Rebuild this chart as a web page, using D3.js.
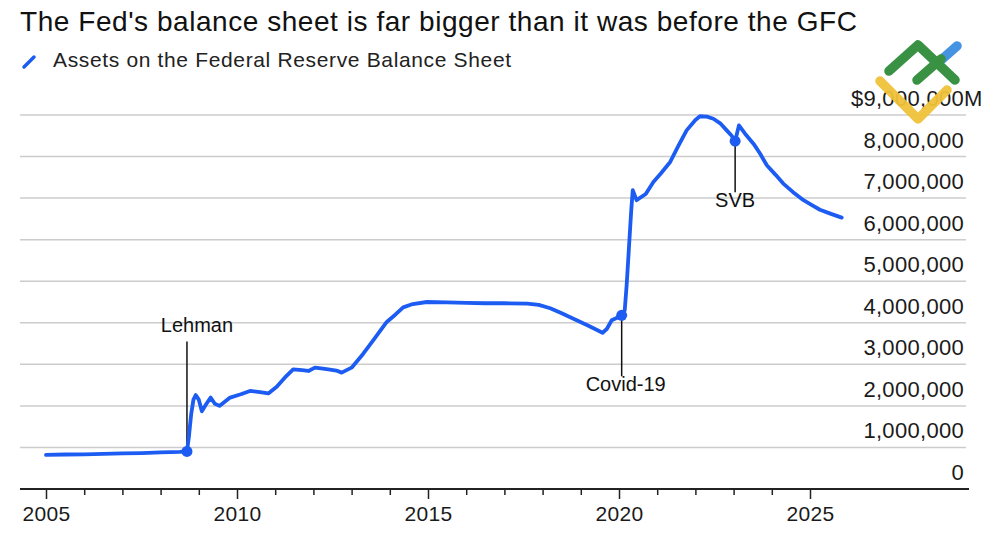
<!DOCTYPE html>
<html>
<head>
<meta charset="utf-8">
<script src="https://cdn.jsdelivr.net/npm/d3@7"></script>
<style>
  html, body { margin: 0; padding: 0; background: #fff; }
  svg { display: block; font-family: "Liberation Sans", Arial, Helvetica, sans-serif; }
</style>
</head>
<body>
<svg id="chart" width="1000" height="545"></svg>
<script>
// ---- data ----
const years = [2005.0, 2005.5, 2006.0, 2006.5, 2007.0, 2007.5, 2008.0, 2008.5, 2008.69,
  2008.74, 2008.8, 2008.86, 2008.92, 2009.0, 2009.08, 2009.2, 2009.31, 2009.42, 2009.54,
  2009.68, 2009.82, 2010.1, 2010.34, 2010.6, 2010.82, 2011.04, 2011.25, 2011.47, 2011.7,
  2011.87, 2012.04, 2012.2, 2012.39, 2012.6, 2012.74, 2013.0, 2013.3, 2013.57, 2013.92,
  2014.15, 2014.35, 2014.6, 2014.97, 2015.5, 2016.0, 2016.5, 2017.0, 2017.6, 2017.9,
  2018.2, 2018.5, 2018.85, 2019.2, 2019.57, 2019.68, 2019.81, 2019.95, 2020.07, 2020.15, 2020.2,
  2020.26, 2020.32, 2020.36, 2020.46, 2020.7, 2020.9, 2021.1, 2021.34, 2021.55, 2021.77,
  2022.0, 2022.12, 2022.3, 2022.47, 2022.65, 2022.82, 2022.95, 2023.04, 2023.14, 2023.3, 2023.52,
  2023.7, 2023.87, 2024.1, 2024.3, 2024.55, 2024.83, 2025.05, 2025.26, 2025.55, 2025.83];
const assets = [820000, 830000, 835000, 845000, 855000, 865000, 880000, 895000, 905000,
  1250000, 1800000, 2150000, 2260000, 2150000, 1870000, 2050000, 2200000, 2050000, 2000000,
  2100000, 2200000, 2280000, 2360000, 2330000, 2300000, 2460000, 2680000, 2880000, 2860000,
  2840000, 2920000, 2900000, 2880000, 2850000, 2800000, 2920000, 3250000, 3580000, 4020000,
  4200000, 4370000, 4450000, 4500000, 4490000, 4480000, 4470000, 4470000, 4460000, 4430000,
  4350000, 4230000, 4080000, 3930000, 3760000, 3850000, 4060000, 4120000, 4180000, 4300000, 4900000,
  5800000, 6700000, 7190000, 6950000, 7100000, 7390000, 7600000, 7870000, 8250000, 8630000,
  8880000, 8970000, 8960000, 8910000, 8800000, 8630000, 8500000, 8370000, 8750000, 8550000, 8310000,
  8060000, 7790000, 7560000, 7350000, 7150000, 6950000, 6830000, 6720000, 6620000, 6530000];

const yTicks = [0, 1000000, 2000000, 3000000, 4000000, 5000000, 6000000, 7000000, 8000000, 9000000];
const xTicks = [2005, 2006, 2007, 2008, 2009, 2010, 2011, 2012, 2013, 2014, 2015,
  2016, 2017, 2018, 2019, 2020, 2021, 2022, 2023, 2024, 2025];
const xLabels = [2005, 2010, 2015, 2020, 2025];

const eventNames = ["Lehman", "Covid-19", "SVB"];
const eventYears = [2008.69, 2020.07, 2023.04];
const eventValues = [905000, 4180000, 8370000];

const titleText = "The Fed's balance sheet is far bigger than it was before the GFC";
const legendText = "Assets on the Federal Reserve Balance Sheet";

// ---- chart ----
const blue = "#1c5cf2";
const svg = d3.select("#chart");
const x = d3.scaleLinear().domain([2005, 2025]).range([46, 810]);
const y = d3.scaleLinear().domain([0, 9000000]).range([489, 115]);
const fmt = d3.format(",");

// title & legend
svg.append("text").attr("x", 20).attr("y", 31).attr("font-size", 28)
  .attr("letter-spacing", 0.55).attr("fill", "#111").text(titleText);
svg.append("line").attr("x1", 24).attr("y1", 67).attr("x2", 34).attr("y2", 57)
  .attr("stroke", blue).attr("stroke-width", 3.5).attr("stroke-linecap", "round");
svg.append("text").attr("x", 53).attr("y", 67).attr("font-size", 21)
  .attr("letter-spacing", 0.65).attr("fill", "#222").text(legendText);

// gridlines
const gridG = svg.append("g");
gridG.selectAll("line").data(yTicks.filter(d => d > 0)).join("line")
  .attr("x1", 20).attr("x2", 966)
  .attr("y1", d => y(d)).attr("y2", d => y(d))
  .attr("stroke", "#cccccc").attr("stroke-width", 1.5);

// y labels
const labG = svg.append("g").attr("font-size", 22).attr("letter-spacing", 0.3).attr("fill", "#1a1a1a");
labG.selectAll("text").data(yTicks).join("text")
  .attr("x", 964).attr("y", d => y(d) - 9)
  .attr("text-anchor", "end")
  .text(d => d === 9000000 ? "$" + fmt(d) : fmt(d));
labG.append("text").attr("x", 964).attr("y", y(9000000) - 9).text("M");

// x axis
const xAxis = d3.axisBottom(x).tickValues(xTicks)
  .tickFormat(d => xLabels.includes(d) ? d : "").tickSize(6).tickPadding(8);
const axG = svg.append("g").attr("transform", "translate(0,489)").call(xAxis);
axG.select(".domain").remove();
axG.selectAll(".tick line").attr("stroke", "#222").attr("stroke-width", 1.5)
  .attr("y2", d => xLabels.includes(d) ? 10 : 6);
axG.selectAll(".tick text").attr("font-size", 21).attr("fill", "#1a1a1a")
  .attr("letter-spacing", 0.3)
  .attr("font-family", "'Liberation Sans', Arial, sans-serif").attr("dy", "0.85em");
svg.append("line").attr("x1", 20).attr("x2", 969).attr("y1", 489).attr("y2", 489)
  .attr("stroke", "#222").attr("stroke-width", 2);

// annotations
const labelOffsets = [-110, 61, 51]; // stem length (negative = up)
const ev = eventNames.map((n, i) => ({ name: n, yr: eventYears[i], v: eventValues[i], off: labelOffsets[i] }));
svg.append("g").selectAll("line").data(ev).join("line")
  .attr("x1", d => x(d.yr)).attr("x2", d => x(d.yr))
  .attr("y1", d => y(d.v)).attr("y2", d => y(d.v) + d.off)
  .attr("stroke", "#111").attr("stroke-width", 1.5);
svg.append("g").selectAll("text").data(ev).join("text")
  .attr("x", d => x(d.yr) + (d.name === "Lehman" ? 10 : d.name === "Covid-19" ? 4 : 0))
  .attr("y", d => d.off < 0 ? y(d.v) + d.off - 9 : y(d.v) + d.off + 15)
  .attr("text-anchor", "middle").attr("font-size", 20).attr("fill", "#111")
  .text(d => d.name);

// line
const line = d3.line().x((d, i) => x(years[i])).y(d => y(d));
svg.append("path").datum(assets).attr("d", line)
  .attr("fill", "none").attr("stroke", blue).attr("stroke-width", 3.8)
  .attr("stroke-linejoin", "round").attr("stroke-linecap", "round");

svg.append("g").selectAll("circle").data(ev).join("circle")
  .attr("cx", d => x(d.yr)).attr("cy", d => y(d.v)).attr("r", 5.5).attr("fill", blue);

// watermark logo
const logo = svg.append("g").attr("fill", "none").attr("stroke-linecap", "round")
  .attr("stroke-linejoin", "round").attr("stroke-width", 9.5).attr("opacity", 0.95);
logo.append("path").attr("d", "M940,61 L957,46").attr("stroke", "#3d8fe0");
logo.append("path").attr("d", "M889,71 L918,45 L955,80").attr("stroke", "#2f8c3a");
logo.append("path").attr("d", "M917,80 L941,59").attr("stroke", "#2f8c3a");
logo.append("path").attr("d", "M880,81 L918,119 L947,90").attr("stroke", "#f0c23a");
</script>
</body>
</html>
